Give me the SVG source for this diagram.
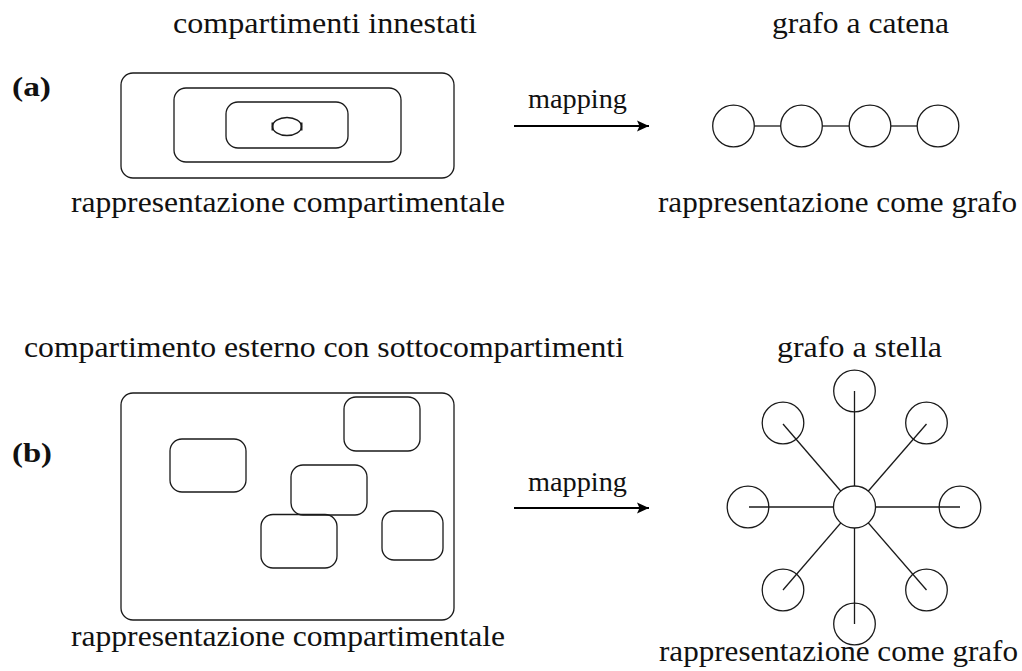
<svg xmlns="http://www.w3.org/2000/svg" width="1022" height="671" viewBox="0 0 1022 671">
  <style>
    .t { font-family: "Liberation Serif", "Times New Roman", serif; font-size: 28.5px; fill: #111; }
    .m { font-family: "Liberation Serif", "Times New Roman", serif; font-size: 27px; fill: #111; }
    .b { font-family: "Liberation Serif", "Times New Roman", serif; font-size: 27px; font-weight: bold; fill: #111; }
    .box { fill: none; stroke: #1a1a1a; stroke-width: 1.3; }
    .node { fill: #fff; stroke: #1a1a1a; stroke-width: 1.3; }
    .ring { fill: none; stroke: #1a1a1a; stroke-width: 1.3; }
    .edge { stroke: #1a1a1a; stroke-width: 1.3; fill: none; }
    .arrow { stroke: #000; stroke-width: 2; fill: none; marker-end: url(#head); }
  </style>
  <defs>
    <marker id="head" markerWidth="14" markerHeight="12" refX="12" refY="6" orient="auto" markerUnits="userSpaceOnUse">
      <path d="M0,0.6 L12,6 L0,11.4 L2.5,6 Z" fill="#000"/>
    </marker>
  </defs>
  <rect width="1022" height="671" fill="#fff"/>

  <!-- panel labels -->
  <text class="b" x="12" y="96" textLength="39" lengthAdjust="spacingAndGlyphs">(a)</text>
  <text class="b" x="12" y="462" textLength="40" lengthAdjust="spacingAndGlyphs">(b)</text>

  <!-- (a) nested compartments -->
  <text class="t" x="173" y="33" textLength="304" lengthAdjust="spacingAndGlyphs">compartimenti innestati</text>
  <g id="nested-outer"><rect class="box" x="121" y="73" width="333" height="105" rx="12"/></g>
  <g id="nested-middle"><rect class="box" x="174" y="88" width="227" height="74" rx="12"/></g>
  <g id="nested-inner"><rect class="box" x="226" y="102" width="122" height="46" rx="12"/></g>
  <g id="nested-core">
    <ellipse class="box" cx="287" cy="126.5" rx="14.5" ry="9"/>
    <line x1="272.5" y1="122.5" x2="272.5" y2="130.5" stroke="#1a1a1a" stroke-width="2"/>
    <line x1="301.5" y1="122.5" x2="301.5" y2="130.5" stroke="#1a1a1a" stroke-width="2"/>
  </g>
  <text class="t" x="71" y="212" textLength="434" lengthAdjust="spacingAndGlyphs">rappresentazione compartimentale</text>

  <!-- (a) chain graph -->
  <text class="t" x="772" y="33" textLength="177" lengthAdjust="spacingAndGlyphs">grafo a catena</text>
  <g id="chain-edges">
    <line class="edge" x1="754" y1="126" x2="781" y2="126"/>
    <line class="edge" x1="822" y1="126" x2="849" y2="126"/>
    <line class="edge" x1="891" y1="126" x2="917" y2="126"/>
  </g>
  <g id="chain-1"><circle class="node" cx="733.5" cy="126" r="20.8"/></g>
  <g id="chain-2"><circle class="node" cx="801.5" cy="126" r="20.8"/></g>
  <g id="chain-3"><circle class="node" cx="870" cy="126" r="20.8"/></g>
  <g id="chain-4"><circle class="node" cx="938" cy="126" r="20.8"/></g>
  <text class="t" x="658" y="212" textLength="359" lengthAdjust="spacingAndGlyphs">rappresentazione come grafo</text>

  <!-- (b) outer compartment with sub-compartments -->
  <text class="t" x="24" y="357" textLength="600" lengthAdjust="spacingAndGlyphs">compartimento esterno con sottocompartimenti</text>
  <g id="outer"><rect class="box" x="121" y="393" width="333" height="227" rx="12"/></g>
  <g id="sub-1"><rect class="box" x="170" y="439" width="76" height="53" rx="12"/></g>
  <g id="sub-2"><rect class="box" x="344" y="397" width="76" height="54" rx="12"/></g>
  <g id="sub-3"><rect class="box" x="291" y="465" width="76" height="50" rx="12"/></g>
  <g id="sub-4"><rect class="box" x="261" y="514.5" width="76" height="53.5" rx="12"/></g>
  <g id="sub-5"><rect class="box" x="382" y="511" width="61" height="49" rx="12"/></g>
  <text class="t" x="71" y="646" textLength="434" lengthAdjust="spacingAndGlyphs">rappresentazione compartimentale</text>

  <!-- (b) star graph -->
  <text class="t" x="777" y="357" textLength="165" lengthAdjust="spacingAndGlyphs">grafo a stella</text>
  <g id="star-edges">
    <line class="edge" x1="854.5" y1="507" x2="854.5" y2="391"/>
    <line class="edge" x1="854.5" y1="507" x2="854.5" y2="624"/>
    <line class="edge" x1="854.5" y1="507" x2="749" y2="507"/>
    <line class="edge" x1="854.5" y1="507" x2="960" y2="507"/>
    <line class="edge" x1="854.5" y1="507" x2="783" y2="424"/>
    <line class="edge" x1="854.5" y1="507" x2="926.5" y2="424"/>
    <line class="edge" x1="854.5" y1="507" x2="783" y2="590"/>
    <line class="edge" x1="854.5" y1="507" x2="926.5" y2="590"/>
  </g>
  <g id="star-top"><circle class="ring" cx="854.5" cy="391" r="20.8"/></g>
  <g id="star-bottom"><circle class="ring" cx="854.5" cy="624" r="20.8"/></g>
  <g id="star-left"><circle class="ring" cx="748" cy="507" r="20.8"/></g>
  <g id="star-right"><circle class="ring" cx="960" cy="507" r="20.8"/></g>
  <g id="star-top-left"><circle class="ring" cx="783" cy="423" r="20.8"/></g>
  <g id="star-top-right"><circle class="ring" cx="926.5" cy="423" r="20.8"/></g>
  <g id="star-bottom-left"><circle class="ring" cx="783" cy="590" r="20.8"/></g>
  <g id="star-bottom-right"><circle class="ring" cx="926.5" cy="590" r="20.8"/></g>
  <g id="star-hub"><circle class="node" cx="854.5" cy="507" r="21"/></g>
  <text class="t" x="659" y="661" textLength="359" lengthAdjust="spacingAndGlyphs">rappresentazione come grafo</text>

  <!-- mapping arrows -->
  <g id="connectors">
    <text class="m" x="528" y="108" textLength="99" lengthAdjust="spacingAndGlyphs">mapping</text>
    <line class="arrow" x1="514" y1="126" x2="649" y2="126"/>
    <text class="m" x="528" y="491" textLength="99" lengthAdjust="spacingAndGlyphs">mapping</text>
    <line class="arrow" x1="514" y1="508" x2="649" y2="508"/>
  </g>
</svg>
